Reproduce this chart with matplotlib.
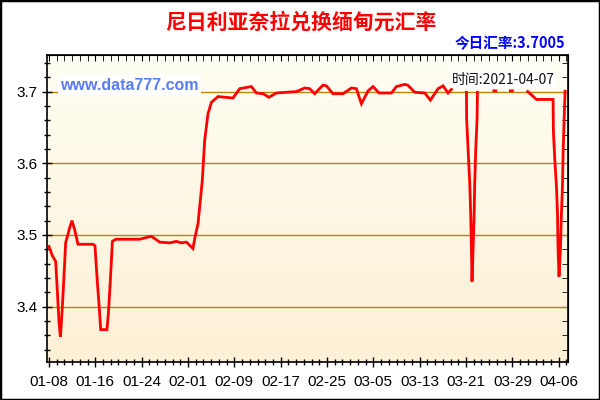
import numpy as np
import matplotlib
matplotlib.use('Agg')
import matplotlib.pyplot as plt
from matplotlib.ticker import MultipleLocator, FixedLocator
from matplotlib.patches import Rectangle
from datetime import datetime, timedelta

plt.rcParams['font.family'] = ['Liberation Sans', 'DejaVu Sans']

start = datetime(2021, 1, 8)

# day offsets from 2021-01-08 and rates (nan = no line drawn)
days = [0.0, 0.59, 1.16, 1.45, 1.73, 1.97, 2.14, 2.31, 2.59, 2.88, 3.18, 3.57, 3.97, 4.44, 5.01,
        7.60, 7.94, 8.36, 8.75, 8.93, 10.01, 10.26, 10.60, 10.95, 11.52, 15.66, 17.09, 17.68,
        18.25, 19.12, 20.84, 22.0, 22.86, 23.72, 24.86, 25.16, 25.73, 26.14, 26.48, 26.88,
        27.45, 28.04, 29.18, 31.77, 32.93, 34.94, 35.81, 36.95, 37.98, 39.26, 42.71, 44.15,
        45.01, 45.87, 47.31, 47.89, 49.03, 50.76, 52.21, 53.07, 53.94, 55.08, 55.94, 56.98,
        59.12, 59.98, 61.41, 61.93, 63.14, 64.87, 65.85, 67.16, 68.03, 68.89, 69.48,
        70.5,
        72.07, 72.10, 72.36, 72.64, 72.81, 72.94, 73.03, 73.20, 73.38, 73.50, 73.67, 73.90, 73.97,
        75.0,
        76.80, 77.15,
        78.5,
        79.65, 80.0,
        81.0,
        82.65, 84.15, 87.02, 87.08, 87.32, 87.61, 87.78, 87.88, 88.05, 88.30, 88.47, 88.64,
        88.75, 88.92, 89.10]
rates = [3.484, 3.471, 3.463, 3.421, 3.379, 3.358, 3.377, 3.400, 3.442, 3.489, 3.498, 3.510, 3.520, 3.507, 3.487,
         3.487, 3.485, 3.433, 3.391, 3.368, 3.368, 3.391, 3.437, 3.491, 3.494, 3.494, 3.497, 3.498,
         3.495, 3.490, 3.489, 3.491, 3.489, 3.490, 3.481, 3.495, 3.516, 3.549, 3.577, 3.632,
         3.669, 3.685, 3.693, 3.691, 3.704, 3.707, 3.698, 3.697, 3.692, 3.698, 3.700, 3.705,
         3.704, 3.697, 3.709, 3.708, 3.697, 3.697, 3.705, 3.704, 3.683, 3.701, 3.707, 3.698,
         3.698, 3.707, 3.710, 3.709, 3.699, 3.698, 3.688, 3.704, 3.708, 3.698, 3.703,
         np.nan,
         3.699, 3.662, 3.618, 3.572, 3.526, 3.477, 3.435, 3.477, 3.526, 3.572, 3.618, 3.662, 3.699,
         np.nan,
         3.701, 3.701,
         np.nan,
         3.701, 3.701,
         np.nan,
         3.700, 3.689, 3.689, 3.644, 3.605, 3.567, 3.531, 3.482, 3.442, 3.482, 3.531, 3.567,
         3.612, 3.658, 3.7005]

y_ticks = [3.4, 3.5, 3.6, 3.7]
title = '尼日利亚奈拉兑换缅甸元汇率'
today_rate = '今日汇率:3.7005'
stamp = '时间:2021-04-07'
site = 'www.data777.com'

cjk = ['Noto Sans CJK SC', 'DejaVu Sans']

fig = plt.figure(figsize=(6, 4), dpi=100)
ax = fig.add_axes([47 / 600, 1 - 361.5 / 400, 521 / 600, 306.5 / 400])

ax.set_xlim(-0.34, 89.6)
ax.set_ylim(3.3235, 3.751)

# soft vertical gradient in the plotting area
grad = np.linspace(0, 1, 256).reshape(-1, 1, 1)
top_c = np.array([255, 254, 243]) / 255
bot_c = np.array([253, 240, 214]) / 255
img = top_c + (bot_c - top_c) * grad
ax.imshow(img, extent=[0, 1, 0, 1], transform=ax.transAxes, aspect='auto', zorder=0)

for v in y_ticks:
    ax.axhline(v, color='#b8860b', lw=1.0, zorder=1)

ax.plot(days, rates, color='#ff0000', lw=2.0, zorder=3, solid_joinstyle='miter')

ax.xaxis.set_major_locator(MultipleLocator(8))
ax.xaxis.set_minor_locator(MultipleLocator(8 / 6))
ax.xaxis.set_major_formatter(lambda x, pos: (start + timedelta(days=x)).strftime('%m-%d'))
ax.yaxis.set_major_locator(FixedLocator(y_ticks))
ax.yaxis.set_minor_locator(MultipleLocator(0.02))
ax.yaxis.set_major_formatter(lambda y, pos: '%.1f' % y)

ax.tick_params(which='major', direction='inout', length=7, width=1, labelsize=11, colors='black')
ax.tick_params(which='minor', direction='inout', length=5, width=1)
ax.tick_params(axis='x', pad=6)
for s in ax.spines.values():
    s.set_color('black')
    s.set_linewidth(1.2)

secx = ax.secondary_xaxis('top')
secx.xaxis.set_major_locator(MultipleLocator(8))
secx.xaxis.set_minor_locator(MultipleLocator(8 / 6))
secx.tick_params(which='both', direction='in', length=4, labeltop=False)
secy = ax.secondary_yaxis('right')
secy.yaxis.set_major_locator(FixedLocator(y_ticks))
secy.yaxis.set_minor_locator(MultipleLocator(0.02))
secy.tick_params(which='both', direction='in', length=4, labelright=False)

ax.text(0.026, 0.902, site, transform=ax.transAxes, fontsize=11.5, fontweight='bold',
        color='#5a7cf6', va='center', ha='left', zorder=5,
        bbox=dict(facecolor='white', edgecolor='none', pad=1.5))
ax.text(0.975, 0.92, stamp, transform=ax.transAxes, fontsize=10, family=cjk,
        color='#111111', va='center', ha='right', zorder=5,
        bbox=dict(facecolor='white', edgecolor='none', pad=0.8))

fig.text(301 / 600, 1 - 22 / 400, title, fontsize=15, fontweight='bold', family=cjk,
         color='#ff0000', ha='center', va='center')
fig.text(565 / 600, 1 - 43 / 400, today_rate, fontsize=10.5, fontweight='bold', family=cjk,
         color='#0000ff', ha='right', va='center')

fig.patches.append(Rectangle((0, 0), 1, 1, transform=fig.transFigure, fill=False,
                             edgecolor='black', lw=2.5))

fig.savefig('out.png', dpi=100)
